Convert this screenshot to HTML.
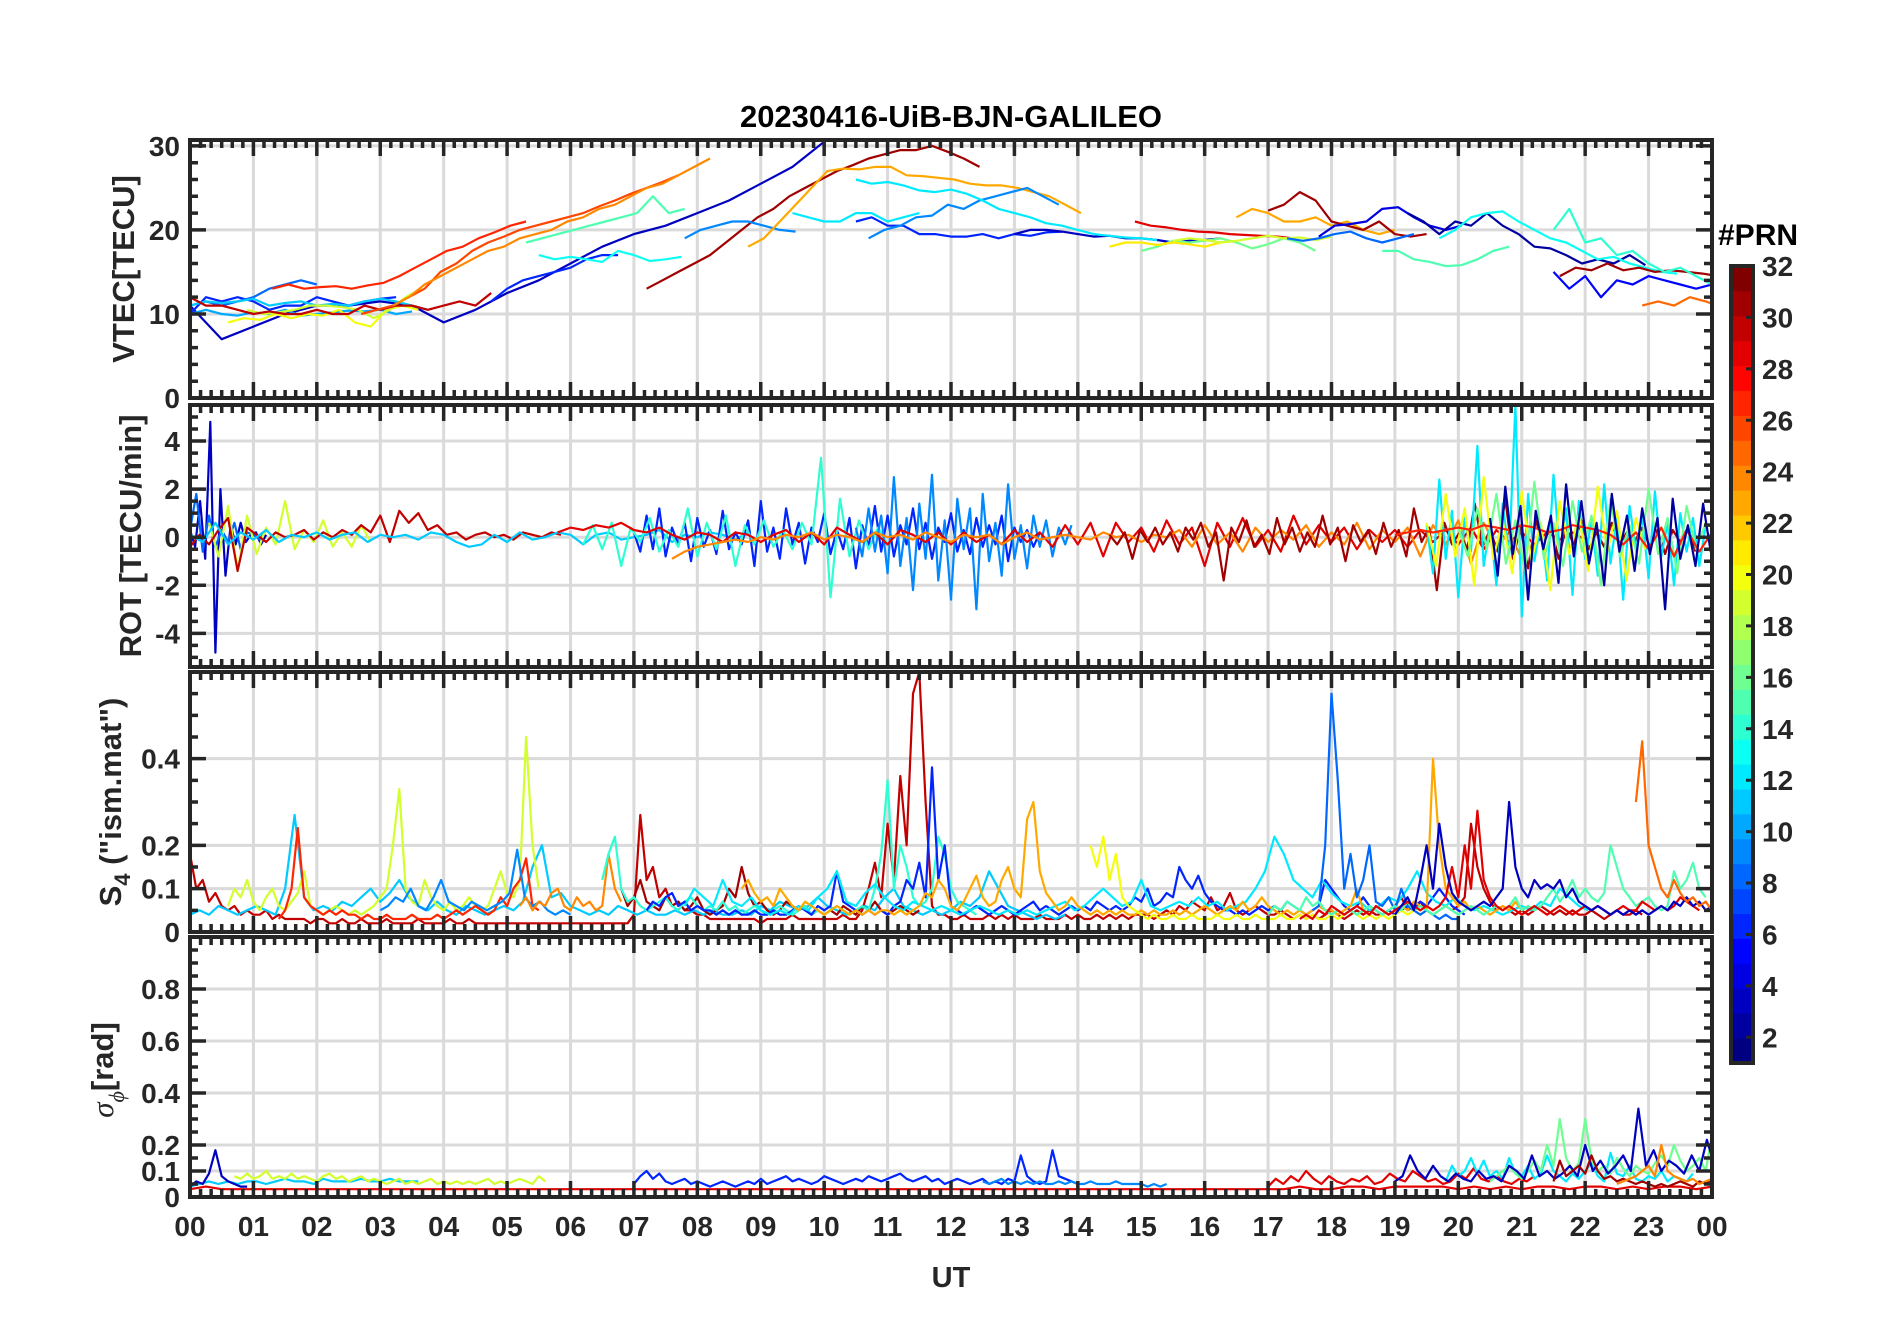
<!DOCTYPE html>
<html><head><meta charset="utf-8"><title>20230416-UiB-BJN-GALILEO</title>
<style>html,body{margin:0;padding:0;background:#fff}svg{display:block}text{font-family:"Liberation Sans",sans-serif;font-weight:bold;fill:#262626}</style>
</head><body>
<svg id="chart" width="1902" height="1330" viewBox="0 0 1902 1330" xmlns="http://www.w3.org/2000/svg"></svg>
<script>
// ---------- data ----------
const hourLabels = ["00","01","02","03","04","05","06","07","08","09","10","11","12","13","14","15","16","17","18","19","20","21","22","23","00"];
const cbTicks = [2,4,6,8,10,12,14,16,18,20,22,24,26,28,30,32];

const vtecPrns  = [3,6,6,8,11,10,20,19,27,30,26,13,15,24,31,9,12,23,6,3,9,12,29,16,21,19,23,31,8,4,15,2,13,31,25,5,14];
const vtecStarts= [0,0,4.75,0,0,0,0.6,0.9,1.3,0,2.7,5.5,5.3,3.2,7.2,7.8,9.5,8.8,10.5,13,10.7,10.5,14.9,15,14.5,15.5,16.5,17,17.3,17.8,18.8,19.2,19.7,21.6,22.9,21.5,21.5];
const vtecSteps = [0.5,0.25,0.25,0.25,0.25,0.25,0.25,0.25,0.25,0.25,0.25,0.25,0.25,0.25,0.25,0.25,0.25,0.25,0.25,0.25,0.25,0.25,0.25,0.25,0.25,0.25,0.25,0.25,0.25,0.25,0.25,0.25,0.25,0.25,0.25,0.25,0.25];
const vtecValues = [
 [11,7,8.5,10,11,11,11.5,11,9,10.5,12.5,14,16,18,19.5,20.5,22,23.5,25.5,27.5,30.5],
 [10,12,11.5,12,11.5,10.5,11,11,12,11.5,11,11.5,11.8,12],
 [11.5,13,14,14.5,15,15.5,16.5,17,17],
 [11,11.5,11,11.5,12,13,13.5,14,13.5],
 [11,11.5,11.3,11.5,11.8,11,11.3,11.5,11,11.2,11,11.5,11.8,11.5,11,10.5],
 [10,10.5,10,9.8,10.2,10,10.5,9.8,10,10.2,10.4,10.3,10.5,10,10.3],
 [9,9.5,9.3,10,9.5,10,9.8,10.5,9,8.5,10.5,11,10.5],
 [10.5,10,10.2,10.5,11,11,10.8,10.5,9.5,10.5,12,13],
 [13,13.5,13,13.2,13.3,13,13.4,13.7,14.5,15.5,16.5,17.5,18,19,19.7,20.5,21],
 [12,11,11,10.5,10,10.3,10,10,10.5,10,10,11,10.5,11,11,10.5,11,11.5,11,12.5],
 [10,10.5,11,12,13,15,16,17.5,18.5,19.2,20,20.5,21,21.5,22,22.8,23.5,24.3,25,25.7,26.5],
 [17,16.5,16.8,16.5,16.2,17.5,17,16.3,16.5,16.8],
 [18.5,19,19.5,20,20.5,21,21.5,22,24,22,22.5],
 [11,12,13.5,14.5,15.5,16.5,17.5,18,19,19.5,20,21,21.5,22.5,23,24,25,25.5,26.5,27.5,28.5],
 [13,14,15,16,17,18.5,20,21.5,22.5,24,25,26,27,27.7,28.5,29,29.5,29.5,30,29.3,28.5,27.5],
 [19,20,20.5,21,21,20.5,20,19.8],
 [22,21.5,21,21,22,22,21,21.5,22],
 [18,19,21,23,25,27,27.3,27.2,27.5,27.5,26.5,26.4,26.2,26,25.5,25.3,25.3,25,24.5,24,23,22],
 [21,21.5,20.5,20.5,19.5,19.5,19.2,19.2,19.5,19,19.5,19.3,19.7,19.8],
 [19.5,20,20,19.8,19.5,19.2,19.3,19,19,18.8,18.5,18.7,18.8,19],
 [19,20,20.5,21.5,21.7,23,22.5,23.5,24,24.5,25,24,23],
 [26,25.5,25.7,25.3,24.7,24.5,24.8,24.3,23.5,22.5,22,21.5,20.8,20.5,20,19.5,19.3,19.1,19,18.8],
 [21,20.5,20.3,20,19.8,19.7,19.5,19.4,19.3,19.2,19],
 [17.5,18,18.7,18.5,18.7,19,18.5,17.8,18.3,19,18.5,17.5],
 [18,18.5,18.5,18.2,18.5,18.3,18,18.5,18.7],
 [18.7,19,18.8,18.5,18.7,19,19.3,19,19.1,18.8,19.2],
 [21.5,22.5,22,21,21,21.5,20.5,21,20,19.5,20],
 [22.3,23,24.5,23.5,21,20.5,20,21,19.5,19.2,19.5],
 [19,18.7,19,19.5,19.8,19,18.5,19,19.5],
 [19.2,20.5,20.7,21,22.5,22.7,21.5,20.5,20,20.5],
 [17.5,17.5,16.5,16.2,15.7,15.8,16.5,17.5,18],
 [22,21,19.5,21,20.5,22,20.5,19.5,18,17.8,17,16,16.5,16,17,15.8],
 [19,20,21.5,22,22.2,21,20,19,18.5,17.5,16.5,16.8,16,15.5,15,14.8],
 [14.5,15.5,15.2,16,15.2,15.5,15,15.2,15,14.8,14.5,14.2,15,14],
 [11,11.5,11,12,11.5,10.8,11.2],
 [15,13,14.5,12,14,13.5,14.5,14,13.5,13,13.5,14.5,15.5,13,14.5],
 [20,22.5,18.5,19,17,17.5,16,15,15.5,14.5,13.5,14,14.5,13.5,13,12.5,12.5,12]
];

const rotPrns  = [3,8,19,30,11,6,14,9,29,24,31,12,20,16,27,2];
const rotStarts= [0,0,0.3,0,0,7,6.2,10.5,5.8,7.6,14.5,19.5,19.5,20,19,20.5];
const rotSteps = [0.08,0.1,0.15,0.15,0.2,0.1,0.15,0.1,0.2,0.2,0.12,0.1,0.15,0.15,0.2,0.12];
const rotValues = [
 [0.3,-0.4,1.5,-0.9,4.8,-4.8,2,-1.6,0.5,-0.3,0.6,-0.2,0.1,0.2,-0.3,0.1],
 [0.3,1.8,-0.6,0.9,-0.4,0.3,-0.2,0.6,-0.5,0.2,0.1,-0.1,0.3],
 [0.6,-0.8,1.3,-1.4,0.9,-0.7,0.4,-0.3,1.5,-0.5,0.3,-0.2,0.7,-0.4,0.2,-0.4,0.5,-0.2],
 [-0.4,0.1,-0.3,0.3,0.8,-1.4,0.4,0.1,-0.2,0.2,0,0.1,0.3,-0.1,0.2,0,0.3,0.1,0.5,0.2,0.9,-0.2,1.1,0.6,1,0.3,0.5,0.1,0.2,-0.1,0.1,0.2,0,0.1,-0.1,0.2,0.1,0,0.2,0.1],
 [0.1,-0.2,0.6,-0.3,0.2,-0.1,0.3,-0.2,0.1,0,0.2,-0.1,0.1,0.2,-0.2,0.1,0,0.1,-0.1,0.2,0.1,-0.2,-0.4,-0.3,0.1,-0.2,0.2,-0.1,0,0.2,0.1,-0.3,0.1,0.2,-0.1,0,0.1,0.3,-0.2,0.1,0,0.2,0.1,-0.1,0.2],
 [0.2,-0.6,0.9,-0.5,1.2,-0.8,0.4,-0.3,0.6,-1,0.8,-0.4,0.3,-0.7,1.1,-0.5,0.2,-0.3,0.7,-1.2,1.5,-0.6,0.4,-0.9,1.2,-0.3,0.6,-1.1,0.4,-0.2,1,-0.7,0.3,-0.5,0.8,-1.3,0.5,-0.4,1.3,-0.6,0.9,-0.8,0.5,-0.3,1.2,-0.5,0.6,-0.9,0.4,-0.2,1,-0.6,0.3,-0.7,0.8,-0.4,0.5,-0.3,0.9,-1,0.4,-0.2,0.3,-0.4,0.2],
 [-0.3,0.5,-0.5,0.6,-1.2,0.4,-0.2,0.8,-0.6,0.3,-0.4,1.2,-0.8,0.6,-0.5,0.9,-1.2,0.5,-0.3,0.7,-0.4,0.3,-0.5,0.6,-0.3,3.3,-2.5,1.6,-0.8,0.7,-0.5,0.4,-0.3],
 [0.4,-0.8,1.2,-0.6,0.9,-1.5,2.5,-1.2,0.8,-2.2,1.4,-0.9,2.6,-1.8,0.7,-2.6,1.6,-0.5,1.2,-3,1.8,-1,0.6,-1.6,2.2,-0.9,0.5,-1.3,0.9,-0.4,0.7,-0.8,0.4,-0.3,0.5],
 [0.2,0.4,0.3,0.5,0.4,0.6,0.3,0.2,0.4,0.1,-0.1,0.2,0.1,-0.2,0.2,0.1,-0.2,0.1,0.3,-0.2,0.2,-0.3,0.4,0.1,-0.2,0.2,-0.3,0.3,0.1,-0.2,0.2,-0.3,0.2,-0.2,0.1,-0.3,0.3,-0.2,0.2,-0.4,0.5,-0.3,0.6,-0.8,0.6,-0.2,0.4,-0.6,0.7,-0.3,0.4,-1.2,0.6,-0.4,0.8,-0.4,0.3,-0.6,0.9,-0.3,0.5,-0.2,0.4,-0.5,0.3,-0.2,0.3,-0.4,0.3,-0.2,0.3,-0.3,0.4,-0.5,0.3,-0.2,0.2,-0.3,0.2,-0.1,0.2,-0.1],
 [-0.9,-0.6,-0.4,-0.3,-0.2,-0.1,-0.2,0,-0.1,0.1,0,0.2,-0.1,0.1,0,-0.2,0.2,0,0.1,-0.1,0.2,0,-0.2,0.1,0,0.1,-0.3,0,0.2,-0.1,0,0.1,0,-0.1,0.2,0,0.1,-0.2,0.1,0,0.3,-0.4,0.5,-0.3,0.2,-0.6,0.4,-0.2,0.3,-0.1,0.5,-0.4,0.2,-0.3,0.6,-0.5,0.3,-0.2,0.4,-0.8,0.5,-0.3,0.7,-1.1,0.6,-0.4,0.2,-0.9],
 [0.1,-0.3,0.2,-0.9,0.3,-0.2,0.4,-0.3,0.2,-0.6,0.4,-0.1,0.6,-0.4,0.2,-1.8,0.4,-0.2,0.7,-0.4,0.1,-0.7,0.8,-0.3,0.4,-0.6,0.2,-0.4,0.9,-0.3,0.4,-1,0.5,-0.2,0.3,-0.7,0.6,-0.4,0.3,-0.8,1.2,-0.2,0.4,-2.2,0.6,-0.3,0.2,-0.5,1.4,-0.4,0.3,-0.6,1.6,-0.9,0.4,-1.3,0.7,-0.3,0.5,-0.9,0.4,-0.3,0.7,-0.5,0.2,-0.4,0.6,-0.3,0.2,-0.2,0.4,-0.4,0.3,-0.7,0.3,-0.2,0.4,-0.6],
 [0.5,-1.5,2.4,-0.9,1.1,-2.5,0.8,-0.6,3.8,-1.2,0.5,-2,1.4,-0.8,5.5,-3.3,1.8,-1,0.6,-1.8,2.6,-0.7,1.2,-2.4,1.5,-0.9,0.7,-1.6,2.2,-1.1,0.8,-2.6,1.3,-0.5,0.9,-1.7,1.9,-0.8,0.6,-2,1,-0.6,0.8,-1.2,0.5],
 [0.6,-1.2,1.8,-0.8,1.2,-2,2.5,-0.9,0.7,-1.5,1.9,-1,0.6,-2.2,1.5,-0.7,0.9,-1.4,2.1,-0.6,1.1,-1.8,0.8,-0.5],
 [0.4,-0.8,1.2,-0.5,1.8,-1.1,0.7,-1.4,2.3,-0.9,0.6,-1.2,1.5,-0.6,0.9,-2,1.6,-0.8,0.5,-1.1,2,-0.7,0.8,-1.5,1.3,-0.5,0.6],
 [0.1,0.2,0.3,0.2,0.3,0.4,0.3,0.5,0.4,0.3,0.5,0.4,0.2,0.3,0.5,0.4,0.3,0.1,-0.3,0.2,-0.5,0.4,-0.8,0.3,-0.6,0.2,-0.4,0.5],
 [0.8,-1.6,2.1,-0.7,1.3,-2.6,1.1,-0.5,0.9,-1.9,2.2,-0.8,1.5,-1.1,0.6,-2,1.8,-0.6,0.9,-1.4,1.2,-0.7,0.8,-3,1.6,-0.9,0.5,-1.2,1.4,-0.6,0.8]
];

const s4Prns  = [30,11,19,27,9,24,31,14,6,12,23,20,8,15,29,3,25];
const s4Starts= [0,0,0.6,1.4,3,5.2,6.8,6.5,7.2,7.8,8.7,14.2,17.7,17,17.5,19,22.8];
const s4Steps = [0.1,0.15,0.1,0.1,0.12,0.1,0.1,0.1,0.1,0.15,0.1,0.1,0.1,0.1,0.1,0.1,0.1];
const s4Values = [
 [0.18,0.1,0.12,0.07,0.09,0.06,0.05,0.06,0.04,0.05,0.04,0.04,0.05,0.03,0.04,0.03,0.03,0.03,0.03,0.02,0.03,0.03,0.02,0.02,0.03,0.02,0.02,0.03,0.02,0.02,0.02,0.03,0.02,0.02,0.02,0.02,0.03,0.02,0.02,0.02,0.02,0.03,0.02,0.02,0.03,0.02,0.02,0.02,0.02,0.02,0.02,0.02,0.02,0.02,0.02,0.02,0.02,0.02,0.02,0.02,0.02,0.02,0.02,0.02,0.02,0.02,0.02,0.02,0.02,0.02,0.04,0.27,0.12,0.15,0.08,0.1,0.06,0.07,0.05,0.05,0.04,0.04,0.03,0.03,0.03,0.03,0.03,0.03,0.03,0.03,0.02,0.03,0.03,0.03,0.03,0.04,0.03,0.03,0.03,0.03,0.03,0.03,0.03,0.04,0.03,0.03,0.05,0.1,0.16,0.08,0.25,0.12,0.36,0.2,0.55,0.6,0.3,0.06,0.04,0.04,0.03,0.03,0.04,0.03,0.03,0.03,0.04,0.03,0.04,0.03,0.04,0.03,0.03,0.03,0.04,0.03,0.03,0.03,0.04,0.03,0.04,0.03,0.03,0.04,0.03,0.04,0.03,0.04,0.03,0.04,0.04,0.04,0.03,0.04,0.05,0.04,0.06,0.05,0.07,0.06,0.05,0.08,0.05,0.06,0.09,0.05,0.04,0.05,0.06,0.05,0.04,0.04,0.05,0.04,0.03,0.04,0.03,0.04,0.03,0.04,0.05,0.04,0.03,0.04,0.05,0.04,0.05,0.04,0.04,0.05,0.06,0.08,0.05,0.06,0.07,0.05,0.04,0.05,0.06,0.05,0.06,0.08,0.25,0.15,0.1,0.07,0.05,0.06,0.05,0.04,0.05,0.04,0.05,0.06,0.05,0.04,0.05,0.04,0.05,0.04,0.04,0.05,0.04,0.03,0.04,0.05,0.04,0.04,0.05,0.04],
 [0.04,0.05,0.04,0.06,0.05,0.04,0.05,0.06,0.05,0.04,0.1,0.27,0.08,0.05,0.06,0.05,0.07,0.06,0.08,0.1,0.07,0.09,0.12,0.08,0.06,0.05,0.07,0.05,0.04,0.06,0.05,0.04,0.05,0.06,0.05,0.07,0.15,0.2,0.08,0.09,0.06,0.05,0.04,0.05,0.04,0.06,0.05,0.04,0.05,0.04,0.04,0.05,0.04,0.05,0.04,0.05,0.04,0.04,0.05,0.04,0.06,0.05,0.07,0.06,0.05,0.06,0.08,0.06,0.05,0.04,0.05,0.06,0.05,0.08,0.1,0.06,0.05,0.04,0.05,0.04,0.05,0.07,0.06,0.08,0.14,0.1,0.06,0.05,0.04,0.03,0.04,0.03,0.04],
 [0.06,0.1,0.08,0.12,0.07,0.05,0.08,0.1,0.06,0.05,0.07,0.09,0.14,0.06,0.05,0.04,0.05,0.06,0.05,0.04,0.05,0.04,0.05,0.06,0.08,0.1,0.2,0.33,0.1,0.07,0.06,0.12,0.08,0.06,0.05,0.07,0.05,0.06,0.08,0.06,0.05,0.06,0.1,0.14,0.09,0.08,0.12,0.45,0.2,0.1],
 [0.03,0.05,0.1,0.24,0.08,0.06,0.05,0.04,0.05,0.04,0.05,0.04,0.04,0.03,0.04,0.03,0.03,0.04,0.03,0.03,0.03,0.04,0.03,0.03,0.03,0.04,0.03,0.04,0.05,0.04,0.05,0.06,0.05,0.04,0.05,0.08,0.06,0.1,0.12,0.17,0.06,0.05],
 [0.05,0.06,0.08,0.07,0.1,0.06,0.05,0.08,0.12,0.07,0.06,0.05,0.07,0.06,0.05,0.06,0.07,0.09,0.19,0.08,0.06,0.07,0.05,0.04,0.05,0.04],
 [0.06,0.08,0.05,0.07,0.06,0.09,0.1,0.06,0.05,0.08,0.06,0.07,0.05,0.06,0.18,0.1,0.07],
 [0.1,0.06,0.08,0.12,0.07,0.06,0.05,0.08,0.06,0.07,0.05,0.06,0.08,0.05,0.04,0.05,0.06,0.1,0.08,0.15,0.09,0.06,0.07,0.05,0.04,0.05,0.07,0.06,0.05,0.06,0.04,0.05,0.04,0.05,0.04,0.06,0.05,0.04,0.06,0.05,0.07,0.05,0.04,0.05,0.06,0.05,0.04,0.05],
 [0.12,0.18,0.22,0.1,0.07,0.08,0.06,0.05,0.06,0.07,0.08,0.06,0.05,0.07,0.08,0.06,0.05,0.06,0.05,0.07,0.05,0.06,0.04,0.05,0.06,0.05,0.04,0.05,0.06,0.05,0.04,0.05,0.06,0.04,0.05,0.04,0.05,0.06,0.05,0.04,0.05,0.06,0.05,0.1,0.18,0.35,0.1,0.2,0.15,0.08,0.06,0.07,0.1,0.22,0.18,0.1,0.07,0.06,0.05,0.04],
 [0.05,0.07,0.06,0.08,0.09,0.06,0.07,0.05,0.06,0.05,0.05,0.04,0.05,0.04,0.05,0.04,0.04,0.05,0.04,0.04,0.05,0.04,0.04,0.05,0.06,0.05,0.04,0.06,0.05,0.06,0.14,0.07,0.06,0.05,0.04,0.05,0.04,0.05,0.04,0.06,0.07,0.12,0.1,0.16,0.08,0.38,0.12,0.2,0.06,0.05,0.04,0.05,0.06,0.05,0.04,0.05,0.06,0.05,0.04,0.05,0.06,0.07,0.05,0.06,0.05,0.04,0.05,0.06,0.05,0.06,0.05,0.07,0.06,0.05,0.06,0.05,0.06,0.08,0.07,0.1,0.06,0.07,0.09,0.08,0.15,0.12,0.1,0.13,0.09,0.07,0.06,0.05,0.05,0.04,0.05,0.04,0.05,0.06,0.05,0.06,0.05,0.07,0.06,0.05,0.04,0.05,0.06,0.12,0.1,0.08,0.06,0.05,0.06,0.08,0.06,0.05,0.04,0.05,0.04,0.05,0.06,0.05,0.07,0.06,0.08,0.1,0.08,0.06,0.05,0.04],
 [0.06,0.1,0.08,0.06,0.12,0.07,0.06,0.08,0.05,0.04,0.05,0.04,0.06,0.05,0.08,0.1,0.14,0.07,0.06,0.09,0.11,0.08,0.06,0.05,0.07,0.06,0.05,0.06,0.05,0.04,0.05,0.06,0.05,0.04,0.05,0.04,0.05,0.04,0.05,0.06,0.07,0.05,0.06,0.08,0.1,0.08,0.06,0.07,0.12,0.06,0.05,0.06,0.07,0.06,0.08,0.06,0.07,0.05,0.06,0.07,0.1,0.14,0.22,0.18,0.12,0.1,0.08,0.12,0.09,0.07,0.06,0.07,0.05,0.06,0.08,0.07,0.1,0.14,0.09,0.07,0.06,0.08,0.06,0.05,0.06,0.05,0.04,0.05,0.06,0.05,0.07,0.06,0.1,0.08,0.06,0.05],
 [0.1,0.12,0.09,0.07,0.08,0.06,0.1,0.08,0.06,0.05,0.07,0.06,0.05,0.04,0.05,0.06,0.05,0.04,0.05,0.04,0.05,0.04,0.05,0.05,0.04,0.05,0.04,0.05,0.06,0.09,0.08,0.12,0.1,0.06,0.05,0.07,0.1,0.13,0.08,0.06,0.07,0.12,0.15,0.1,0.08,0.26,0.3,0.14,0.09,0.07,0.05,0.06,0.08,0.06,0.05,0.04,0.05,0.04,0.05,0.04,0.05,0.04,0.04,0.05,0.04,0.05,0.04,0.04,0.05,0.04,0.05,0.04,0.05,0.06,0.05,0.04,0.05,0.06,0.05,0.07,0.05,0.06,0.08,0.06,0.05,0.04,0.05,0.04,0.05,0.04,0.05,0.06,0.05,0.05,0.04,0.05,0.06,0.1,0.05,0.04,0.06,0.05,0.04,0.05,0.06,0.05,0.07,0.06,0.05,0.4,0.2,0.1,0.08,0.06,0.07,0.05,0.06,0.05,0.04,0.05,0.06,0.05,0.07,0.05,0.06,0.05],
 [0.2,0.15,0.22,0.12,0.18,0.08,0.06,0.05,0.04,0.03,0.04,0.03,0.03,0.04,0.03,0.03,0.04,0.03,0.03,0.03,0.04,0.03,0.03,0.04,0.03,0.03,0.04,0.03,0.03,0.03,0.04,0.03,0.03,0.04,0.03,0.04,0.03,0.03,0.04,0.03,0.04,0.05,0.04,0.03,0.04,0.03,0.04,0.03,0.04,0.05,0.04,0.05,0.04,0.05,0.04,0.05,0.06,0.05,0.04,0.05],
 [0.05,0.06,0.2,0.55,0.35,0.1,0.18,0.08,0.12,0.2,0.07,0.06,0.08,0.05,0.1,0.06,0.05,0.04,0.05,0.04,0.03,0.04,0.03,0.03],
 [0.04,0.06,0.05,0.07,0.06,0.05,0.08,0.06,0.07,0.05,0.04,0.05,0.04,0.05,0.04,0.05,0.06,0.05,0.04,0.05,0.06,0.05,0.07,0.05,0.06,0.05,0.04,0.05,0.06,0.05,0.04,0.05,0.06,0.05,0.04,0.05,0.06,0.05,0.06,0.08,0.05,0.06,0.05,0.06,0.08,0.1,0.07,0.09,0.12,0.08,0.1,0.08,0.07,0.09,0.2,0.15,0.1,0.08,0.06,0.07,0.08,0.06,0.05,0.06,0.14,0.1,0.12,0.16,0.1,0.08],
 [0.03,0.04,0.03,0.05,0.04,0.06,0.05,0.04,0.05,0.06,0.05,0.04,0.06,0.05,0.04,0.05,0.06,0.07,0.06,0.05,0.06,0.05,0.06,0.08,0.15,0.08,0.2,0.1,0.28,0.12,0.08,0.06,0.05,0.06,0.05,0.04,0.05,0.06,0.05,0.04,0.05,0.06,0.05,0.04,0.05,0.06,0.05,0.06,0.05,0.04,0.05,0.06,0.05,0.05,0.07,0.06,0.05,0.06,0.05,0.06,0.08,0.07,0.06,0.05],
 [0.04,0.06,0.08,0.05,0.12,0.2,0.1,0.25,0.15,0.09,0.07,0.06,0.05,0.06,0.07,0.06,0.08,0.1,0.3,0.15,0.1,0.08,0.12,0.1,0.11,0.1,0.12,0.08,0.1,0.07,0.06,0.05,0.06,0.05,0.04,0.05,0.04,0.05,0.04,0.05,0.04,0.05,0.06,0.05,0.07,0.06,0.08,0.06,0.07,0.05,0.06,0.07,0.1,0.08,0.12,0.06,0.07,0.05,0.06,0.05],
 [0.3,0.44,0.2,0.15,0.1,0.08,0.12,0.09,0.07,0.08,0.06,0.07,0.05,0.06,0.05,0.07,0.06,0.08,0.06,0.05,0.06,0.08,0.05,0.06,0.04,0.05,0.06,0.04,0.05,0.06,0.07,0.05]
];

const sigPrns  = [29,11,19,3,6,9,29,12,16,3,31,24];
const sigStarts= [0,0,0.7,0,7,12.5,17,19.8,20.5,19,21.5,22.5];
const sigSteps = [0.25,0.15,0.1,0.1,0.1,0.1,0.12,0.1,0.1,0.12,0.1,0.1];
const sigValues = [
 [0.03,0.04,0.03,0.03,0.03,0.03,0.03,0.03,0.03,0.03,0.03,0.03,0.03,0.03,0.03,0.03,0.03,0.03,0.03,0.03,0.03,0.03,0.03,0.03,0.03,0.03,0.03,0.03,0.03,0.03,0.03,0.03,0.03,0.03,0.03,0.03,0.03,0.03,0.03,0.03,0.03,0.03,0.03,0.03,0.03,0.03,0.03,0.03,0.03,0.03,0.03,0.03,0.03,0.03,0.03,0.03,0.03,0.03,0.03,0.03,0.03,0.03,0.03,0.03,0.03,0.03,0.03,0.03,0.03,0.03,0.04,0.03,0.03,0.04,0.04,0.03,0.04,0.04,0.04,0.04,0.03,0.04,0.03,0.04,0.03,0.04,0.04,0.03,0.04,0.04,0.03,0.04,0.03,0.04,0.04,0.03,0.04],
 [0.04,0.05,0.06,0.05,0.06,0.05,0.06,0.06,0.05,0.06,0.07,0.06,0.06,0.05,0.07,0.06,0.06,0.06,0.07,0.06,0.06,0.07,0.06,0.06,0.06],
 [0.08,0.07,0.09,0.07,0.08,0.1,0.07,0.08,0.07,0.09,0.07,0.08,0.07,0.06,0.08,0.09,0.07,0.08,0.06,0.07,0.08,0.06,0.07,0.06,0.05,0.06,0.07,0.05,0.06,0.05,0.06,0.07,0.05,0.06,0.05,0.06,0.05,0.06,0.05,0.06,0.07,0.05,0.06,0.05,0.06,0.07,0.06,0.05,0.08,0.06],
 [0.04,0.06,0.05,0.09,0.18,0.08,0.06,0.05,0.04,0.04],
 [0.05,0.08,0.1,0.07,0.09,0.06,0.05,0.06,0.07,0.05,0.06,0.05,0.04,0.05,0.06,0.05,0.04,0.05,0.06,0.05,0.07,0.05,0.06,0.07,0.08,0.06,0.07,0.06,0.05,0.06,0.08,0.07,0.06,0.05,0.06,0.07,0.06,0.08,0.07,0.06,0.07,0.08,0.09,0.07,0.06,0.07,0.08,0.06,0.07,0.05,0.06,0.07,0.06,0.05,0.06,0.07,0.05,0.06,0.05,0.07,0.06,0.16,0.08,0.06,0.05,0.06,0.18,0.08,0.07,0.06,0.05],
 [0.06,0.05,0.06,0.07,0.05,0.06,0.05,0.06,0.05,0.06,0.05,0.05,0.06,0.05,0.06,0.05,0.05,0.06,0.05,0.05,0.05,0.06,0.05,0.05,0.05,0.05,0.04,0.05,0.04,0.05],
 [0.04,0.07,0.05,0.08,0.06,0.1,0.07,0.05,0.08,0.06,0.05,0.07,0.06,0.08,0.05,0.06,0.09,0.07,0.06,0.1,0.08,0.06,0.07,0.05,0.06,0.09,0.07,0.11,0.07,0.06,0.08,0.06,0.05,0.07,0.06,0.08],
 [0.06,0.12,0.08,0.1,0.15,0.09,0.14,0.08,0.1,0.07,0.15,0.09,0.08,0.12,0.07,0.09,0.16,0.1,0.08,0.06,0.09,0.07,0.1,0.13,0.08,0.06,0.17,0.09,0.08,0.12,0.07,0.06,0.08,0.07,0.1,0.06,0.08,0.07,0.06,0.09],
 [0.06,0.08,0.1,0.12,0.09,0.07,0.1,0.14,0.1,0.2,0.12,0.3,0.15,0.1,0.13,0.3,0.14,0.1,0.12,0.09,0.15,0.11,0.08,0.12,0.1,0.09,0.13,0.16,0.12,0.2,0.14,0.1,0.12,0.15,0.1,0.24,0.12,0.09],
 [0.06,0.08,0.16,0.1,0.07,0.12,0.08,0.06,0.09,0.07,0.06,0.1,0.07,0.08,0.06,0.12,0.1,0.07,0.16,0.08,0.1,0.07,0.09,0.12,0.08,0.2,0.1,0.14,0.09,0.12,0.16,0.1,0.34,0.12,0.18,0.1,0.14,0.12,0.09,0.16,0.1,0.22,0.12,0.09,0.08,0.1,0.14,0.1,0.07,0.12,0.08,0.06,0.1,0.07,0.16,0.09],
 [0.06,0.14,0.08,0.1,0.12,0.09,0.16,0.1,0.07,0.08,0.06,0.07,0.06,0.05,0.06,0.05,0.04,0.05,0.04,0.05,0.06,0.05,0.04,0.06,0.05,0.07,0.06,0.08,0.1,0.07],
 [0.05,0.06,0.07,0.08,0.1,0.12,0.08,0.2,0.1,0.08,0.07,0.06,0.07,0.05,0.06,0.07,0.05,0.04,0.05,0.06]
];

// ---------- layout ----------
const X0 = 190, X1 = 1712;
const panels = [
  {name:"vtec", top:140, bot:398, min:0, max:30.7, ticks:[0,10,20,30], labels:["0","10","20","30"], minor:2, prns:vtecPrns, starts:vtecStarts, steps:vtecSteps, vals:vtecValues},
  {name:"rot", top:405, bot:667, min:-5.4, max:5.5, ticks:[-4,-2,0,2,4], labels:["-4","-2","0","2","4"], minor:0.5, prns:rotPrns, starts:rotStarts, steps:rotSteps, vals:rotValues},
  {name:"s4", top:672, bot:932, min:0, max:0.6, ticks:[0,0.1,0.2,0.4], labels:["0","0.1","0.2","0.4"], minor:0.05, prns:s4Prns, starts:s4Starts, steps:s4Steps, vals:s4Values},
  {name:"sigma", top:937, bot:1197, min:0, max:1, ticks:[0,0.1,0.2,0.4,0.6,0.8], labels:["0","0.1","0.2","0.4","0.6","0.8"], minor:0.05, prns:sigPrns, starts:sigStarts, steps:sigSteps, vals:sigValues}
];
const NS = "http://www.w3.org/2000/svg";
const svg = document.getElementById("chart");
function mk(tag, attrs, parent){const e=document.createElementNS(NS,tag);for(const k in attrs)e.setAttribute(k,attrs[k]);(parent||svg).appendChild(e);return e;}
function xScale(h){return X0 + (h/24)*(X1-X0);}
function jet(v){
  const r=Math.max(0,Math.min(1,1.5-Math.abs(4*v-3))), g=Math.max(0,Math.min(1,1.5-Math.abs(4*v-2))), b=Math.max(0,Math.min(1,1.5-Math.abs(4*v-1)));
  return "rgb("+Math.round(r*255)+","+Math.round(g*255)+","+Math.round(b*255)+")";}
function prnColor(p){return jet((p-1)/31);}

const title = mk("text",{x:(X0+X1)/2,y:127,"text-anchor":"middle","font-size":31,style:"fill:#000"});
title.textContent="20230416-UiB-BJN-GALILEO";



panels.forEach(function(p){
  const g = mk("g",{});
  
  
  const ys = function(v){return p.bot - (v-p.min)/(p.max-p.min)*(p.bot-p.top);};
  for(let h=1;h<24;h++){
    const gl = mk("line",{x1:xScale(h),x2:xScale(h),y1:p.top,y2:p.bot,stroke:"#dadada","stroke-width":3},g);
    
    
  }
  p.ticks.forEach(function(t){
    if(ys(t)>p.top+3 && ys(t)<p.bot-3){
      const gl = mk("line",{x1:X0,x2:X1,y1:ys(t),y2:ys(t),stroke:"#dadada","stroke-width":3},g);
      
      
    }
  });
  const cp = mk("clipPath",{id:"clip-"+p.name},g);
  mk("rect",{x:X0,y:p.top,width:X1-X0,height:p.bot-p.top},cp);
  const sg = mk("g",{"clip-path":"url(#clip-"+p.name+")"},g);
  p.prns.forEach(function(prn,i){
    const vals = p.vals[i];
    let d="";
    vals.forEach(function(v,j){
      const h = p.starts[i] + j*p.steps[i];
      d += (j?"L":"M") + xScale(h).toFixed(1) + " " + ys(v).toFixed(1);
    });
    const path = mk("path",{d:d,fill:"none",stroke:prnColor(prn),"stroke-width":2.2,"stroke-linejoin":"round"},sg);
    
    
  });
  let tk="";
  for(let m=0;m<=144;m++){
    const x=xScale(m/6), L=(m%6===0)?16:8;
    tk+="M"+x+" "+p.top+"v"+L+"M"+x+" "+p.bot+"v"+(-L);
  }
  const nMin = Math.round((p.max-p.min)/p.minor)+2;
  for(let k=-nMin;k<=nMin*2;k++){
    const v = Math.round(k*p.minor*1000)/1000;
    if(v<p.min||v>p.max) continue;
    const isMaj = p.ticks.some(function(t){return Math.abs(t-v)<1e-6;});
    const L = isMaj?16:8, y=ys(v);
    tk+="M"+X0+" "+y+"h"+L+"M"+X1+" "+y+"h"+(-L);
  }
  const tp = mk("path",{d:tk,stroke:"#262626","stroke-width":3.5,fill:"none"},g);
  
  
  const fr = mk("rect",{x:X0,y:p.top,width:X1-X0,height:p.bot-p.top,fill:"none",stroke:"#262626","stroke-width":4},g);
  
  
  p.ticks.forEach(function(t,i){
    const tl = mk("text",{x:X0-10,y:ys(t)+10,"text-anchor":"end","font-size":28},g);
    tl.textContent=p.labels[i];
    
    
  });
});

function ytitle(txt,x,y,name){
  const t = mk("text",{x:0,y:0,transform:"translate("+x+","+y+") rotate(-90)","text-anchor":"middle","font-size":31});
  t.innerHTML = txt;
  
  
}
ytitle("VTEC[TECU]",134,269,"vtec-y-axis-title");
ytitle("ROT [TECU/min]",141,536,"rot-y-axis-title");
ytitle('S<tspan dy="9" font-size="22">4</tspan><tspan dy="-9"> ("ism.mat")</tspan>',121,802,"s4-y-axis-title");
ytitle('<tspan font-style="italic" font-weight="normal" font-family="Liberation Serif">σ</tspan><tspan dy="11" font-size="22" font-style="italic" font-weight="normal" font-family="Liberation Serif">ϕ</tspan><tspan dy="-11">[rad]</tspan>',113,1070,"sigma-y-axis-title");

hourLabels.forEach(function(l,i){
  const t = mk("text",{x:xScale(i),y:1236,"text-anchor":"middle","font-size":28});
  t.textContent=l;
  
  
});
const ut = mk("text",{x:(X0+X1)/2,y:1287,"text-anchor":"middle","font-size":29});
ut.textContent="UT";



const CB_X=1731, CB_W=22, CB_T=266, CB_B=1063;
const cbg = mk("g",{});


const cby = function(v){return CB_B - (v-1)/31*(CB_B-CB_T);};
for(let i=0;i<32;i++){
  const y0 = CB_B - i*(CB_B-CB_T)/32, y1 = CB_B-(i+1)*(CB_B-CB_T)/32;
  const r = mk("rect",{x:CB_X,y:y1,width:CB_W,height:y0-y1+0.5,fill:jet(i/31)},cbg);
  
  
}
let cbt="";
cbTicks.forEach(function(v){cbt+="M"+(CB_X+CB_W)+" "+cby(v)+"h-7";});
mk("path",{d:cbt,stroke:"#262626","stroke-width":3},cbg);
mk("rect",{x:CB_X,y:CB_T,width:CB_W,height:CB_B-CB_T,fill:"none",stroke:"#262626","stroke-width":4},cbg);
cbTicks.forEach(function(v){
  const t = mk("text",{x:1762,y:cby(v)+10,"font-size":28},cbg);
  t.textContent=v;
  
  
});
const prnT = mk("text",{x:1718,y:245,"font-size":30,style:"fill:#000"});
prnT.textContent="#PRN";


</script>
</body></html>
